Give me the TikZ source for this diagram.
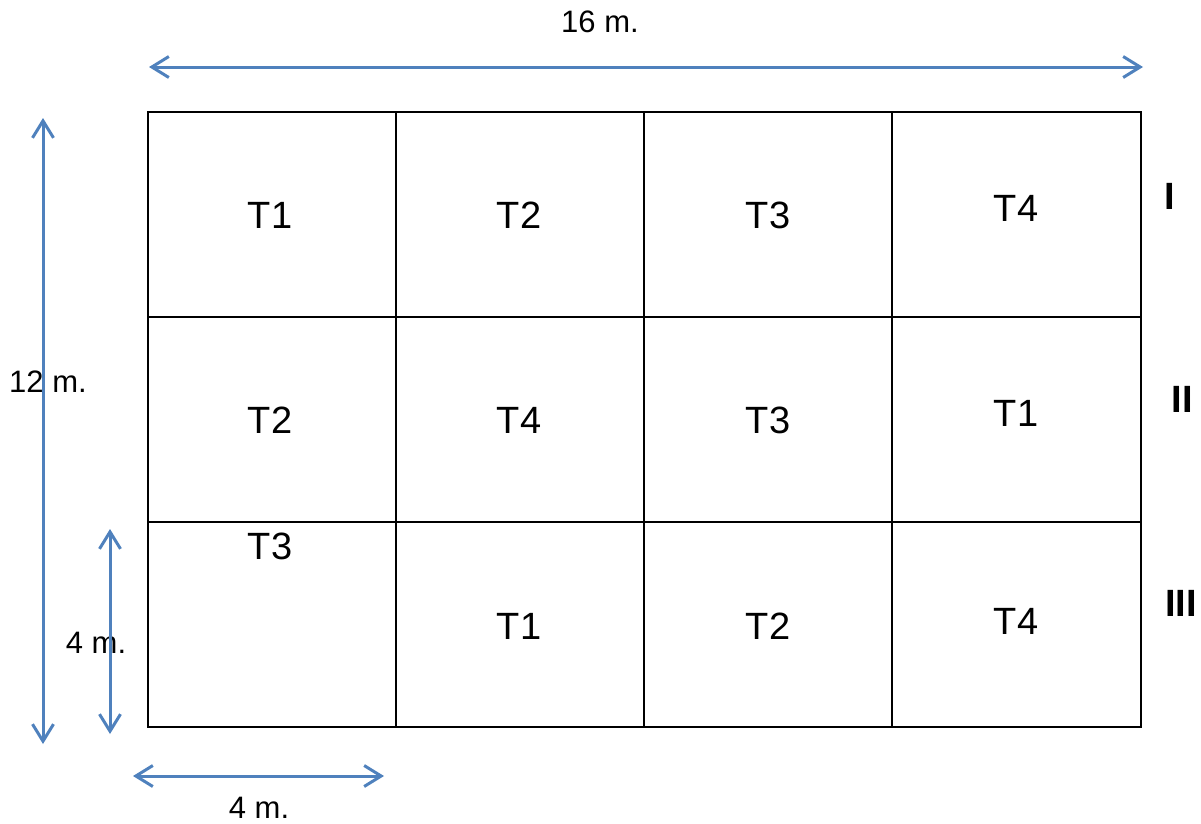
\documentclass[tikz,border=0pt]{standalone}
\usepackage{fontspec}
\setmainfont{Liberation Sans}
\usetikzlibrary{arrows.meta}
\definecolor{dimblue}{HTML}{4F81BD}
\begin{document}
\begin{tikzpicture}[x=1pt,y=-1pt,
  lbl/.style={inner sep=0pt,font=\fontsize{31}{36}\selectfont},
  cell/.style={inner sep=0pt,font=\fontsize{38}{44}\selectfont},
  rom/.style={inner sep=0pt,font=\fontsize{38}{44}\selectfont\bfseries},
  dim/.style={draw=dimblue,line width=3pt,line cap=round,
    {Straight Barb[length=17pt,width=21pt,line width=3pt]}-{Straight Barb[length=17pt,width=21pt,line width=3pt]}},
  gridline/.style={draw=black,line width=2pt}]
\useasboundingbox (0,0) rectangle (1201,823);
% field grid
\draw[gridline] (148,112) rectangle (1141,727);
\foreach \x in {396,644,892} \draw[gridline] (\x,112) -- (\x,727);
\foreach \y in {317,522} \draw[gridline] (148,\y) -- (1141,\y);
% treatments
\node[cell] (r1c1) at (270,215) {T1};
\node[cell] (r1c2) at (519,215) {T2};
\node[cell] (r1c3) at (768,215) {T3};
\node[cell] (r1c4) at (1016,208) {T4};
\node[cell] (r2c1) at (270,420) {T2};
\node[cell] (r2c2) at (519,420) {T4};
\node[cell] (r2c3) at (768,420) {T3};
\node[cell] (r2c4) at (1016,413) {T1};
\node[cell] (r3c1) at (270,546) {T3};
\node[cell] (r3c2) at (519,626) {T1};
\node[cell] (r3c3) at (768,626) {T2};
\node[cell] (r3c4) at (1016,621) {T4};
% blocks
\node[rom] (b1) at (1170,196) {I};
\node[rom] (b2) at (1182,399) {II};
\node[rom] (b3) at (1181,603) {III};
% dimension labels
\node[lbl] (l16) at (600,22) {16 m.};
\node[lbl] (l12) at (48,382) {12 m.};
\node[lbl] (l4v) at (96,643) {4 m.};
\node[lbl] (l4h) at (259,808) {4 m.};
% dimension arrows
\coordinate (t1) at (149,67); \coordinate (t2) at (1143,67);
\coordinate (v1) at (43,118); \coordinate (v2) at (43,744);
\coordinate (w1) at (110,529); \coordinate (w2) at (110,734);
\coordinate (h1) at (133,776); \coordinate (h2) at (384,776);
\draw[dim] (t1) -- (t2);
\draw[dim] (v1) -- (v2);
\draw[dim] (w1) -- (w2);
\draw[dim] (h1) -- (h2);
\end{tikzpicture}
\end{document}
